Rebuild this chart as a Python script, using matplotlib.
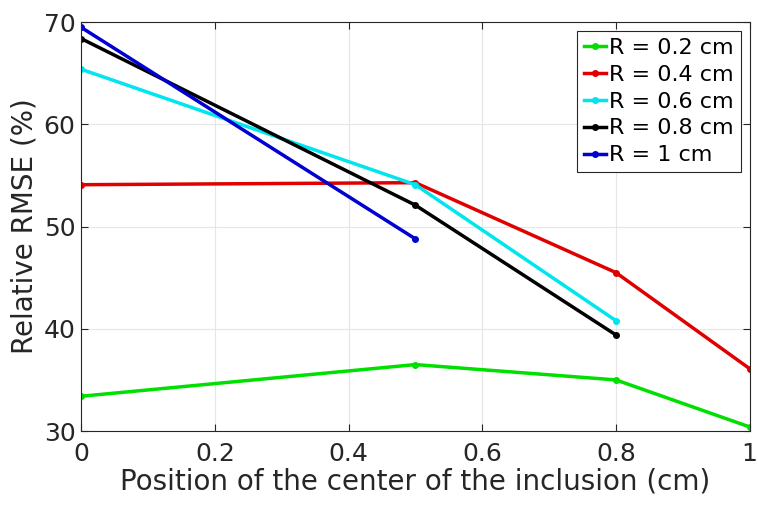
import numpy as np
import matplotlib.pyplot as plt

# Datos
pos_4 = [0, 0.5, 0.8, 1]
pos_3 = [0, 0.5, 0.8]
pos_2 = [0, 0.5]

rmse_02 = [33.4, 36.5, 35.0, 30.4]
rmse_04 = [54.1, 54.3, 45.5, 36.1]
rmse_06 = [65.4, 54.1, 40.8]
rmse_08 = [68.4, 52.1, 39.4]
rmse_10 = [69.5, 48.8]

series = [
    (pos_4, rmse_02, '#00e000', 'R = 0.2 cm'),
    (pos_4, rmse_04, '#e00000', 'R = 0.4 cm'),
    (pos_3, rmse_06, '#00e5ee', 'R = 0.6 cm'),
    (pos_3, rmse_08, 'black', 'R = 0.8 cm'),
    (pos_2, rmse_10, '#0000d0', 'R = 1 cm'),
]

plt.rcParams['font.family'] = ['DejaVu Sans']

fig = plt.figure(figsize=(7.58, 5.05), dpi=100)
ax = fig.add_axes([0.107, 0.1465, 0.882, 0.8095])

for x, y, c, lab in series:
    ax.plot(x, y, '.-', color=c, lw=2.5, ms=8, label=lab)

ax.set_xlim(0, 1)
ax.set_ylim(30, 70)
ax.set_xticks([0, 0.2, 0.4, 0.6, 0.8, 1])
ax.set_xticklabels(['0', '0.2', '0.4', '0.6', '0.8', '1'])
ax.set_yticks([30, 40, 50, 60, 70])
ax.grid(True, color='#e6e6e6', lw=0.8)
ax.tick_params(direction='in', top=True, right=True, labelsize=18, colors='#262626',
               length=5)
ax.tick_params(axis='x', pad=8)
ax.tick_params(axis='y', pad=4)
for s in ax.spines.values():
    s.set_color('#262626')
    s.set_linewidth(0.8)
ax.set_xlabel('Position of the center of the inclusion (cm)', fontsize=20, color='#262626',
              labelpad=1)
ax.set_ylabel('Relative RMSE (%)', fontsize=20, color='#262626', labelpad=4)

leg = ax.legend(loc='upper right', fontsize=16, fancybox=False, framealpha=1,
                handlelength=1.0, handletextpad=0.15, borderpad=0.3, labelspacing=0.31,
                borderaxespad=0.4)
leg.get_frame().set_edgecolor('#262626')
leg.get_frame().set_linewidth(0.8)

fig.savefig('out.png', dpi=100)
